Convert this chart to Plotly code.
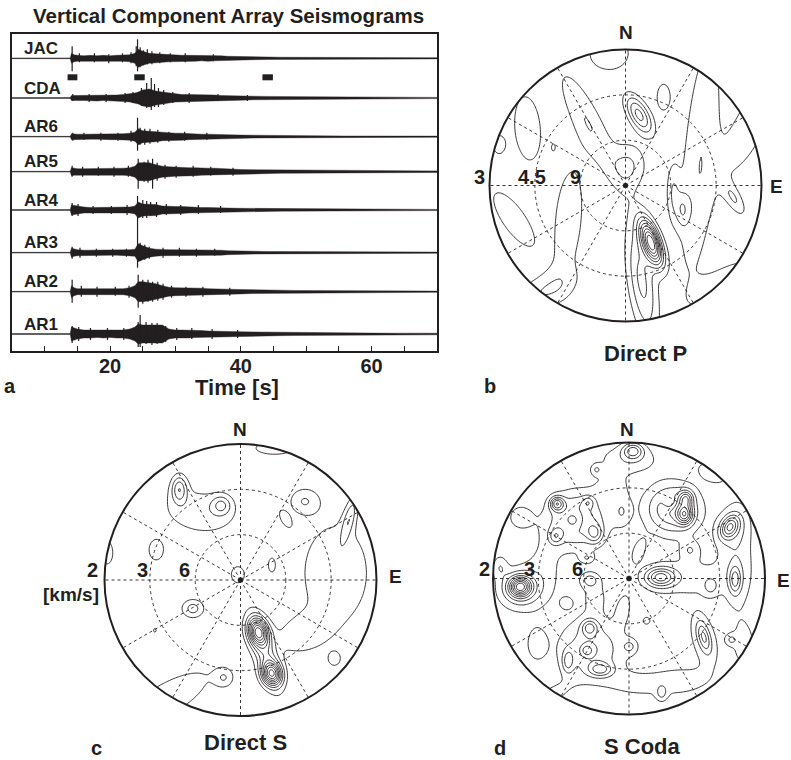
import numpy as np
import plotly.graph_objects as go

# ---------------- DATA ----------------
STATIONS = ["JAC", "CDA", "AR6", "AR5", "AR4", "AR3", "AR2", "AR1"]
# envelope knot times (s)
T = [5, 13.9, 14.1, 14.5, 15, 16, 17, 18, 19, 20, 21, 22, 23, 23.8, 24.3, 25, 26, 27, 28, 29,
     30, 31, 32, 33, 34, 35, 36, 37, 38, 40, 42, 44, 46, 48, 50, 53, 56, 60, 64, 70]
# half-amplitude envelopes (amplitude units) per station
ENV = {
    "JAC": [0.4, 0.4, 5, 3.5, 3, 2.5, 3, 2.5, 3, 2.5, 3, 3, 3.5, 5, 9, 7, 5, 4.5, 4, 3.5,
            3.5, 3, 3, 3, 2.5, 3, 2.5, 2.5, 2, 1.6, 1.4, 1.2, 1.1, 1.0, 0.9, 0.8, 0.7, 0.7, 0.6, 0.6],
    "CDA": [0.4, 0.4, 2.5, 2.5, 2.5, 2.5, 2.5, 3, 2.5, 3, 3, 3.5, 4, 5, 6, 8, 9, 7, 6, 5,
            4, 3.5, 3.5, 3.5, 3, 3, 3, 2.5, 2.5, 2.2, 1.8, 1.6, 1.5, 1.3, 1.1, 1.0, 0.9, 0.8, 0.7, 0.6],
    "AR6": [0.4, 0.4, 3, 2.5, 2.5, 2.5, 2.5, 2.5, 2.5, 3, 3, 3, 3.5, 4.5, 8, 6, 5.5, 5, 4, 3.5,
            3.5, 3.5, 3, 3, 2.5, 2.5, 2.5, 2.5, 2, 1.6, 1.4, 1.2, 1.1, 1.0, 0.9, 0.8, 0.7, 0.7, 0.6, 0.6],
    "AR5": [0.4, 0.4, 4, 3.5, 3, 3, 3, 3, 3, 3, 3.5, 3.5, 4, 5.5, 9, 9, 9, 7, 5.5, 5,
            4.5, 4.5, 4, 4, 3.5, 3.5, 3.5, 3, 3, 2.2, 2.0, 1.9, 1.6, 1.5, 1.3, 1.1, 1.0, 0.9, 0.8, 0.8],
    "AR4": [0.4, 0.4, 5, 4.5, 4, 3, 2.5, 2.5, 2.5, 2.5, 2.5, 3, 3, 4, 8, 6, 6, 5.5, 4, 3.5,
            3.5, 3.5, 3, 3, 2.5, 2.5, 2.5, 2.5, 2, 1.7, 1.6, 1.4, 1.2, 1.1, 1.0, 0.9, 0.7, 0.7, 0.6, 0.6],
    "AR3": [0.4, 0.4, 4.5, 3.5, 3, 2.5, 2.5, 2.5, 2.5, 2.5, 2.5, 3, 3, 3.5, 9, 7, 4.5, 3.5, 3, 3,
            3, 3, 2.5, 2.5, 2.5, 2.5, 2.5, 2.5, 2, 1.5, 1.4, 1.2, 1.1, 1.0, 0.9, 0.8, 0.7, 0.7, 0.6, 0.6],
    "AR2": [0.4, 0.4, 6, 4, 3, 3, 3, 3, 3, 3, 3, 3, 4, 6, 10, 10, 9, 8, 6, 4.5,
            4, 4, 3.5, 3.5, 3.5, 3, 3, 2.5, 2.5, 2.2, 1.8, 1.6, 1.5, 1.3, 1.1, 1.0, 0.9, 0.8, 0.7, 0.6],
    "AR1": [0.4, 0.4, 7, 6, 5, 4, 4, 3.5, 4, 3.5, 4, 4, 5, 7, 10, 9, 9, 9, 9, 5,
            4, 4, 4, 3.5, 3.5, 3, 3, 3, 3, 2.3, 2.1, 1.9, 1.7, 1.5, 1.4, 1.2, 1.0, 0.9, 0.8, 0.8],
}
# spikes: (time, up, down)
SPIKES = {
    "JAC": [(14.2, 12, 13), (15.3, 5, 4), (17.6, 5, 4), (19.8, 4, 5), (21.9, 5, 4),
            (23.2, 6, 5), (24.0, 12, 8), (24.2, 19, 13), (24.6, 11, 9), (25.1, 8, 7),
            (25.7, 9, 6), (26.4, 7, 6), (27.6, 6, 5), (29.2, 5, 4), (31.5, 5, 4), (35.8, 4, 3)],
    "CDA": [(14.3, 4, 3), (16.8, 4, 4), (19.4, 4, 4), (22.3, 5, 5), (23.5, 6, 5),
            (24.8, 10, 8), (25.6, 15, 10), (26.3, 20, 12), (26.8, 14, 9), (27.4, 10, 9),
            (28.2, 8, 7), (29.6, 6, 5), (32.1, 5, 5), (36.5, 4, 3), (41.0, 3, 3)],
    "AR6": [(14.3, 4, 4), (16.0, 4, 3), (18.6, 4, 4), (21.2, 4, 4), (23.2, 6, 5),
            (24.2, 19, 14), (24.6, 9, 8), (25.3, 8, 8), (26.1, 8, 7), (27.3, 7, 6),
            (29.0, 5, 5), (31.4, 5, 4), (34.8, 4, 3)],
    "AR5": [(14.2, 6, 5), (15.8, 5, 5), (18.2, 5, 4), (20.6, 5, 5), (22.8, 6, 5),
            (24.3, 13, 17), (25.2, 10, 10), (25.8, 12, 11), (26.5, 13, 17), (27.2, 9, 9),
            (28.4, 7, 7), (30.1, 6, 6), (32.7, 6, 5), (35.4, 5, 4), (38.8, 4, 4)],
    "AR4": [(14.2, 7, 6), (15.1, 6, 6), (17.4, 4, 4), (20.2, 4, 4), (22.6, 5, 5),
            (24.2, 14, 18), (25.0, 10, 8), (25.6, 9, 8), (26.2, 8, 6), (27.1, 8, 7),
            (28.6, 6, 5), (30.8, 5, 5), (33.5, 5, 4), (36.9, 4, 3)],
    "AR3": [(14.2, 6, 6), (15.4, 5, 5), (17.9, 4, 4), (20.4, 4, 4), (22.5, 4, 4),
            (24.2, 25, 15), (24.6, 10, 8), (25.3, 8, 7), (26.0, 6, 6), (28.1, 5, 5),
            (30.6, 5, 4), (33.2, 4, 4), (36.0, 4, 3)],
    "AR2": [(14.2, 12, 11), (15.6, 6, 5), (18.0, 5, 5), (20.8, 5, 4), (22.9, 6, 6),
            (24.3, 17, 16), (25.0, 12, 12), (25.8, 12, 10), (26.5, 10, 10), (27.3, 10, 9),
            (28.1, 8, 8), (29.4, 6, 6), (31.6, 5, 5), (34.2, 5, 5), (38.3, 4, 4)],
    "AR1": [(14.2, 8, 9), (15.2, 7, 7), (17.0, 6, 6), (19.6, 6, 6), (22.1, 6, 6),
            (24.3, 12, 13), (24.6, 19, 13), (25.5, 12, 10), (26.4, 11, 11), (27.2, 11, 10),
            (28.5, 8, 8), (30.2, 6, 6), (32.5, 6, 5), (35.6, 5, 5), (39.5, 4, 4)],
}
# analysis windows (s)
WIN_START = [13.5, 23.7, 43.3]
WIN_END = [15.0, 25.3, 44.9]
X_TICKS = [20, 40, 60]

# slowness-map blobs: (east, north, amplitude, sigma_a, sigma_b, angle_deg)
BLOBS_P = [
    (0.19, -0.42, 0.85, 0.045, 0.12, 19), (0.12, -0.70, 0.30, 0.07, 0.30, 8),
    (0.10, 0.52, 0.40, 0.05, 0.11, 30), (0.28, 0.65, 0.18, 0.04, 0.08, 0),
    (0.42, -0.18, 0.18, 0.035, 0.09, 0), (0.80, -0.10, 0.18, 0.04, 0.10, 30),
    (0.03, 0.15, 0.18, 0.09, 0.12, 0), (-0.12, 0.97, 0.18, 0.12, 0.10, 0),
    (-0.27, 0.45, 0.18, 0.08, 0.33, 27), (-0.72, 0.42, 0.18, 0.08, 0.20, 5),
    (-0.93, 0.30, 0.16, 0.04, 0.06, 0), (-0.53, 0.28, 0.11, 0.015, 0.03, 0),
    (-0.82, -0.25, 0.18, 0.07, 0.20, 35), (-0.60, -0.78, 0.18, 0.18, 0.09, 25),
    (-0.42, -0.25, 0.18, 0.08, 0.30, -5), (0.55, 0.20, 0.18, 0.10, 0.70, -5),
    (0.92, 0.45, 0.18, 0.09, 0.30, -25), (0.75, -0.70, 0.18, 0.18, 0.08, 30),
    (0.35, -0.05, 0.16, 0.035, 0.15, 0),
]
BLOBS_S = [
    (0.13, -0.38, 0.70, 0.05, 0.07, 15), (0.23, -0.69, 0.68, 0.05, 0.06, 15),
    (0.18, -0.53, 0.32, 0.06, 0.20, 18), (0.70, 0.05, 0.18, 0.20, 0.30, 0),
    (0.45, -0.40, 0.16, 0.15, 0.10, 20), (-0.02, 0.04, 0.16, 0.045, 0.055, 0),
    (0.23, 0.11, 0.14, 0.025, 0.05, 0), (-0.14, 0.55, 0.23, 0.05, 0.05, 0),
    (-0.45, 0.67, 0.32, 0.04, 0.07, 0), (-0.30, 0.50, 0.16, 0.22, 0.13, -10),
    (-0.62, 0.22, 0.16, 0.05, 0.07, 0), (0.47, 0.58, 0.18, 0.08, 0.07, 0),
    (0.33, 0.45, 0.14, 0.03, 0.06, 30), (-0.35, -0.21, 0.23, 0.06, 0.05, 0),
    (-0.63, -0.37, 0.12, 0.015, 0.02, 0), (-0.12, -0.72, 0.16, 0.05, 0.05, 0),
    (0.69, -0.58, 0.16, 0.035, 0.04, 0), (-0.55, -0.88, 0.18, 0.30, 0.10, 30),
    (0.25, 0.97, 0.18, 0.12, 0.04, 0), (0.80, 0.45, 0.22, 0.03, 0.12, -15),
    (-0.98, 0.20, 0.16, 0.04, 0.08, 0),
]
BLOBS_CODA = [
    (-0.80, -0.06, 0.70, 0.055, 0.05, 0), (-0.80, -0.08, 0.30, 0.12, 0.11, 0),
    (0.41, 0.47, 0.50, 0.04, 0.05, 0), (0.42, 0.59, 0.35, 0.035, 0.04, 0),
    (0.32, 0.51, 0.42, 0.14, 0.13, 0), (0.30, 0.56, -0.16, 0.035, 0.035, 0),
    (-0.53, 0.55, 0.45, 0.035, 0.035, 0), (-0.54, 0.31, 0.22, 0.035, 0.04, 0),
    (-0.25, 0.33, 0.25, 0.04, 0.05, 0), (-0.30, 0.56, 0.18, 0.03, 0.03, 0),
    (-0.38, 0.43, 0.40, 0.15, 0.14, 0), (-0.41, 0.43, -0.22, 0.05, 0.05, 0),
    (0.74, 0.38, 0.40, 0.04, 0.06, -30), (0.74, 0.36, 0.15, 0.08, 0.10, -30),
    (0.23, 0.01, 0.38, 0.07, 0.045, 0), (0.23, 0.0, 0.15, 0.12, 0.08, 0),
    (0.78, -0.01, 0.30, 0.03, 0.07, 0), (0.55, -0.43, 0.28, 0.03, 0.08, 15),
    (0.55, -0.45, 0.16, 0.08, 0.18, 15), (0.13, -0.31, 0.15, 0.025, 0.025, 0),
    (-0.29, -0.36, 0.30, 0.04, 0.04, 0), (-0.31, -0.53, 0.20, 0.03, 0.03, 0),
    (-0.45, -0.61, 0.24, 0.03, 0.06, 0), (-0.21, -0.67, 0.30, 0.06, 0.035, 0),
    (-0.27, -0.52, 0.30, 0.17, 0.16, 0), (0.03, 0.94, 0.36, 0.05, 0.04, 0),
    (0.00, 0.88, 0.18, 0.16, 0.08, 0), (-0.24, 0.80, 0.16, 0.03, 0.03, 0),
    (-0.05, 0.49, 0.16, 0.05, 0.08, 0), (-0.80, 0.45, 0.16, 0.07, 0.07, 0),
    (-0.95, 0.09, 0.16, 0.04, 0.06, 0), (-0.46, -0.18, 0.16, 0.035, 0.035, 0),
    (-0.68, -0.48, 0.16, 0.06, 0.10, 0), (0.01, -0.50, 0.16, 0.04, 0.04, 0),
    (0.60, -0.06, 0.16, 0.04, 0.05, 0), (0.45, 0.21, 0.16, 0.05, 0.05, 0),
    (0.75, -0.45, 0.16, 0.03, 0.03, 0), (0.24, -0.85, 0.16, 0.03, 0.04, 0),
    (-0.29, -0.01, 0.20, 0.05, 0.04, 0), (-0.31, 0.15, 0.16, 0.04, 0.03, 0),
    (0.07, 0.20, 0.15, 0.04, 0.08, -20), (-0.04, -0.22, 0.15, 0.04, 0.09, -10),
    (0.80, 0.15, 0.16, 0.09, 0.35, 0), (0.40, -0.75, 0.14, 0.15, 0.08, 0),
    (0.85, -0.50, 0.14, 0.06, 0.12, 0), (-0.60, -0.88, 0.14, 0.15, 0.06, 30),
    (0.60, 0.78, 0.14, 0.10, 0.06, -30), (0.50, 0.02, 0.12, 0.20, 0.12, 0),
    (-0.62, 0.08, 0.12, 0.10, 0.18, 0), (0.08, -0.78, 0.12, 0.18, 0.08, 0),
    (-0.12, 0.68, 0.12, 0.10, 0.08, 0), (-0.25, -0.12, 0.12, 0.08, 0.10, 0),
]

# ---------------- LAYOUT HELPERS ----------------
W, H = 791, 760
FONT = "Liberation Sans, Arial, Helvetica, sans-serif"
INK = "#231f20"


def px(x):
    return x / W


def py(y):
    return 1 - y / H


fig = go.Figure()

# ---- panel a: seismograms ----
BOX = (12, 34, 437, 351)  # left, top, right, bottom in pixels
BASE_PX = [58.3, 98, 136.7, 171.7, 210, 252.7, 291.7, 334]
BASELINES = [BOX[3] - b for b in BASE_PX]

for name, base in zip(STATIONS, BASELINES):
    env = ENV[name]
    assert len(env) == len(T)
    xs = list(T) + list(T[::-1])
    ys = [base + e for e in env] + [base - e for e in env[::-1]]
    fig.add_trace(go.Scatter(x=xs, y=ys, fill="toself", fillcolor=INK, mode="lines",
                             line=dict(color=INK, width=0.4), xaxis="x", yaxis="y",
                             hoverinfo="skip", showlegend=False))
    sx, sy = [], []
    for t, up, dn in SPIKES[name]:
        sx += [t, t, None]
        sy += [base + up, base - dn, None]
    fig.add_trace(go.Scatter(x=sx, y=sy, mode="lines", line=dict(color=INK, width=1.2),
                             xaxis="x", yaxis="y", hoverinfo="skip", showlegend=False))
    fig.add_annotation(x=6.5, y=base + 10, xref="x", yref="y", text=name, showarrow=False,
                       xanchor="left", yanchor="middle",
                       font=dict(family=FONT, size=17, color=INK, weight="bold"))

for a, b in zip(WIN_START, WIN_END):
    fig.add_shape(type="rect", xref="x", yref="y", x0=a, x1=b,
                  y0=BASELINES[0] - 22, y1=BASELINES[0] - 16,
                  fillcolor=INK, line=dict(width=0))

fig.update_layout(
    xaxis=dict(domain=[px(BOX[0]), px(BOX[2])], range=[5, 70], tickmode="array", tickvals=X_TICKS,
               ticks="inside", ticklen=5, tickwidth=1, tickcolor=INK, ticklabelstandoff=-4,
               minor=dict(tickvals=[v for v in range(10, 70, 5)], ticks="inside", ticklen=5,
                          tickwidth=1, tickcolor=INK),
               showline=True, mirror=True, linewidth=2, linecolor=INK, showgrid=False,
               zeroline=False, anchor="y",
               tickfont=dict(family=FONT, size=20, color=INK, weight="bold")),
    yaxis=dict(domain=[py(BOX[3]), py(BOX[1])], range=[0, BOX[3] - BOX[1]], showline=True,
               mirror=True, linewidth=2, linecolor=INK, showgrid=False, zeroline=False,
               showticklabels=False, ticks="", anchor="x"),
)

# ---- polar slowness panels ----
R = 136
EXT = 1.02
g = np.linspace(-1, 1, 181)
GX, GY = np.meshgrid(g, g)
INSIDE = GX ** 2 + GY ** 2 <= 1


def field(blobs):
    Z = np.zeros_like(GX)
    for x0, y0, a, sa, sb, ang in blobs:
        th = np.radians(ang)
        dx, dy = GX - x0, GY - y0
        u = dx * np.cos(th) + dy * np.sin(th)
        v = -dx * np.sin(th) + dy * np.cos(th)
        Z += a * np.exp(-0.5 * ((u / sa) ** 2 + (v / sb) ** 2))
    return Z / Z[INSIDE].max()


ang_c = np.linspace(0, 2 * np.pi, 241)
circ = " ".join(("M" if i == 0 else "L") + f"{np.cos(t):.4f},{np.sin(t):.4f}" for i, t in enumerate(ang_c))
mask_path = "M-1.2,-1.2 L1.2,-1.2 L1.2,1.2 L-1.2,1.2 Z " + circ + " Z"


def polar_panel(idx, cx, cy, blobs):
    xa, ya = f"x{idx}", f"y{idx}"
    fig.add_trace(go.Contour(x=g, y=g, z=field(blobs), xaxis=xa, yaxis=ya,
                             contours=dict(start=0.1, end=0.95, size=0.1, coloring="lines"),
                             line=dict(width=0.9, smoothing=1),
                             colorscale=[[0, INK], [1, INK]], showscale=False,
                             hoverinfo="skip"))
    fig.add_shape(type="path", xref=xa, yref=ya, path=mask_path, fillcolor="white",
                  fillrule="evenodd", line=dict(width=0), layer="above")
    for r in (1 / 3, 2 / 3):
        fig.add_shape(type="circle", xref=xa, yref=ya, x0=-r, x1=r, y0=-r, y1=r,
                      line=dict(color=INK, width=0.9, dash="3px,3px"), layer="above")
    for k in range(12):
        a = np.radians(30 * k)
        fig.add_shape(type="line", xref=xa, yref=ya, x0=0, y0=0, x1=np.cos(a), y1=np.sin(a),
                      line=dict(color=INK, width=0.9, dash="3px,3px"), layer="above")
    fig.add_shape(type="circle", xref=xa, yref=ya, x0=-1, x1=1, y0=-1, y1=1,
                  line=dict(color=INK, width=2), layer="above")
    fig.add_trace(go.Scatter(x=[0], y=[0], mode="markers", marker=dict(color=INK, size=5),
                             xaxis=xa, yaxis=ya, hoverinfo="skip", showlegend=False))
    half = EXT * R
    ax = dict(range=[-EXT, EXT], visible=False, showgrid=False, zeroline=False, fixedrange=True)
    fig.update_layout(**{
        f"xaxis{idx}": dict(ax, domain=[px(cx - half), px(cx + half)], anchor=ya),
        f"yaxis{idx}": dict(ax, domain=[py(cy + half), py(cy - half)], anchor=xa),
    })


polar_panel(2, 625.5, 185.5, BLOBS_P)
polar_panel(3, 240.5, 580, BLOBS_S)
polar_panel(4, 629, 578.5, BLOBS_CODA)


def label(text, x, y, size=18, xanchor="center"):
    fig.add_annotation(x=px(x), y=py(y), xref="paper", yref="paper", text=text,
                       showarrow=False, xanchor=xanchor, yanchor="middle",
                       font=dict(family=FONT, size=size, color=INK, weight="bold"))


label("Vertical Component Array Seismograms", 228, 16, 20.5)
label("Time [s]", 237, 387, 22)
label("a", 10, 386, 20)
# panel b
label("N", 625.5, 33, 19)
label("E", 776, 186, 19)
label("3", 479.5, 177, 20)
label("4.5", 532, 177, 20)
label("9", 575, 177, 20)
label("Direct P", 645.5, 353.5, 22)
label("b", 490, 386, 20)
# panel c
label("N", 239.5, 429, 19)
label("E", 395, 576.5, 19)
label("2", 92.5, 569.5, 20)
label("[km/s]", 101, 594, 19, xanchor="right")
label("3", 142, 569.5, 20)
label("6", 184.5, 569.5, 20)
label("Direct S", 246, 742.5, 22)
label("c", 96, 748, 20)
# panel d
label("N", 626.5, 429, 19)
label("E", 783.5, 580, 19)
label("2", 484, 569, 20)
label("3", 529, 569, 20)
label("6", 577, 569, 20)
label("S Coda", 642, 746, 22)
label("d", 500, 748, 20)

fig.update_layout(width=W, height=H, margin=dict(l=0, r=0, t=0, b=0),
                  paper_bgcolor="white", plot_bgcolor="white", showlegend=False)

fig.write_html("out.html")
